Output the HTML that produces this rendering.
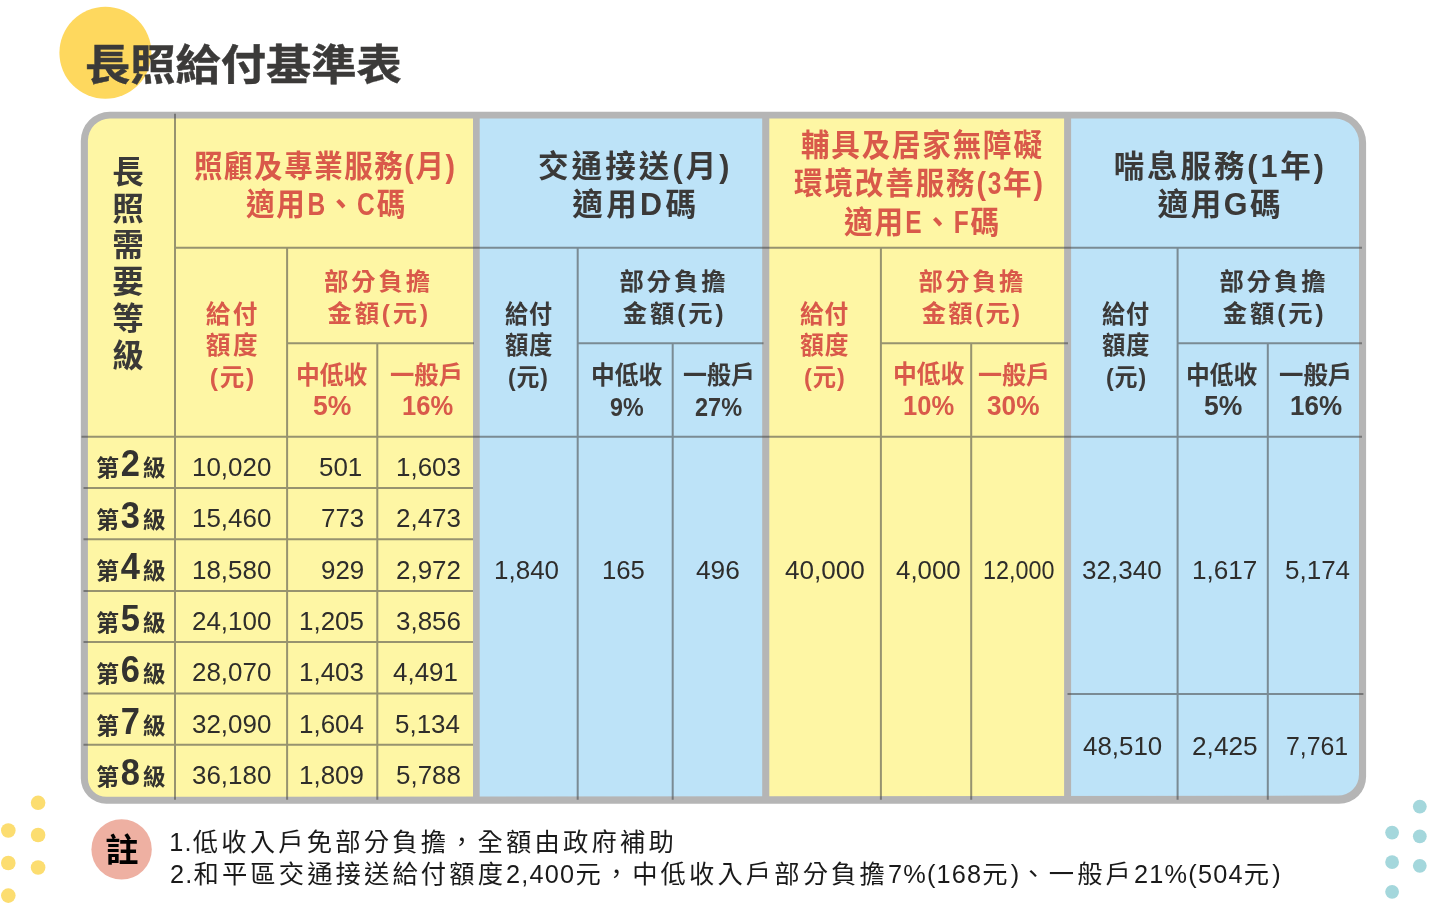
<!DOCTYPE html>
<html lang="zh-Hant">
<head>
<meta charset="utf-8">
<title>長照給付基準表</title>
<style>
html,body{margin:0;padding:0;background:#fff;}
body{width:1445px;height:904px;overflow:hidden;position:relative;font-family:"Liberation Sans","Noto Sans CJK TC",sans-serif;}
#page{position:absolute;left:0;top:0;width:1445px;height:904px;overflow:hidden;background:#fff;}
#grid{position:absolute;left:0;top:0;}
.t{position:absolute;white-space:nowrap;line-height:1;margin:0;padding:0;font-weight:700;transform-origin:0 50%;}
.d{display:inline-block;font-size:37.5px;line-height:1;transform:scaleX(.92);margin:0 1.9px 0 0.9px;}
.L{display:inline-block;transform:scaleX(.86);margin:0 -1.4px;}
.n{letter-spacing:1.2px;}
</style>
</head>
<body>
<div id="page">
<svg id="grid" width="1445" height="904" viewBox="0 0 1445 904">
<defs><clipPath id="inner"><path d="M109.9 118.6H1335.0A24.0 24.0 0 0 1 1359.0 142.6V774.6A21.0 21.0 0 0 1 1338.0 795.6L106.4 796.8A18.5 18.5 0 0 1 87.9 778.3V140.6A22.0 22.0 0 0 1 109.9 118.6Z"/></clipPath></defs>
<circle cx="105.4" cy="52.8" r="46" fill="#fed85e"/>
<path d="M109.8 111.8H1335.1A31.0 31.0 0 0 1 1366.1 142.8V776.8A27.0 27.0 0 0 1 1339.1 803.8H106.3A25.5 25.5 0 0 1 80.8 778.3V140.8A29.0 29.0 0 0 1 109.8 111.8Z" fill="#b5b5b5"/>
<g clip-path="url(#inner)">
<rect x="81" y="111" width="392" height="700" fill="#fef6a4"/>
<rect x="479.7" y="111" width="282.5" height="700" fill="#bde3f8"/>
<rect x="769.3" y="111" width="294.8" height="700" fill="#fef6a4"/>
<rect x="1071.1" y="111" width="300" height="700" fill="#bde3f8"/>
</g>
<g stroke="#464646" stroke-opacity="0.56" stroke-width="2" fill="none">
<path d="M175 113.8V799.8M287.1 247.7V799.8M377.3 343.2V799.8M577.7 247.7V799.8M672.7 343.2V799.8M880.9 247.7V799.8M971.2 343.2V799.8M1177.6 247.7V799.8M1267.8 343.2V799.8M175 247.7H1362M287.1 343.2H474M577.7 343.2H763.5M880.9 343.2H1068M1177.6 343.2H1362M81.5 436.8H1362M83.5 488H473M83.5 539.3H473M83.5 590.9H473M83.5 642H473M83.5 693.4H473M83.5 744.8H473M1067.5 694H1363.4"/>
</g>
<g fill="#fcdd70">
<circle cx="38.1" cy="802.8" r="7.3"/><circle cx="8.3" cy="830.5" r="7.3"/><circle cx="38.1" cy="835" r="7.3"/><circle cx="8.3" cy="863" r="7.3"/><circle cx="38.1" cy="867.5" r="7.3"/><circle cx="8.3" cy="895.6" r="7.3"/>
</g>
<g fill="#a4d7dc">
<circle cx="1419.8" cy="806.6" r="6.9"/><circle cx="1392.1" cy="832.6" r="6.9"/><circle cx="1419.8" cy="836.3" r="6.9"/><circle cx="1392.1" cy="862.1" r="6.9"/><circle cx="1419.8" cy="865.8" r="6.9"/><circle cx="1392.1" cy="891.8" r="6.9"/>
</g>
<circle cx="121.6" cy="849.4" r="30.2" fill="#eeb0a2"/>
</svg>
<h1 class="t" id="title" style="left:84.54px;top:45.48px;font-size:42.50px;transform:scaleX(1.0643);color:#3b3a39;-webkit-text-stroke:0.45px currentColor;">長照給付基準表</h1>
<div class="t" id="vh" style="left:108.60px;top:154.66px;font-size:31.50px;letter-spacing:5.304px;color:#3a3938;writing-mode:vertical-rl;">長照需要等級</div>
<div class="t" id="h1a" style="left:194.05px;top:150.50px;font-size:30.50px;letter-spacing:1.641px;transform:scaleX(0.9350);color:#d9594a;">照顧及專業服務(月)</div>
<div class="t" id="h1b" style="left:245.96px;top:188.60px;font-size:30.50px;letter-spacing:1.983px;transform:scaleX(0.9350);color:#d9594a;">適用<span class="L">B</span>、<span class="L">C</span>碼</div>
<div class="t" id="h2a" style="left:537.95px;top:151.04px;font-size:30.50px;letter-spacing:3.124px;color:#3a3938;">交通接送(月)</div>
<div class="t" id="h2b" style="left:572.16px;top:189.22px;font-size:30.50px;letter-spacing:3.470px;color:#3a3938;">適用D碼</div>
<div class="t" id="h3a" style="left:800.99px;top:129.89px;font-size:30.50px;letter-spacing:1.952px;transform:scaleX(0.9350);color:#d9594a;">輔具及居家無障礙</div>
<div class="t" id="h3b" style="left:793.58px;top:168.34px;font-size:30.50px;letter-spacing:2.028px;transform:scaleX(0.9350);color:#d9594a;">環境改善服務(<span class="L">3</span>年)</div>
<div class="t" id="h3c" style="left:844.36px;top:207.02px;font-size:30.50px;letter-spacing:2.056px;transform:scaleX(0.9350);color:#d9594a;">適用<span class="L">E</span>、<span class="L">F</span>碼</div>
<div class="t" id="h4a" style="left:1113.65px;top:150.51px;font-size:30.50px;letter-spacing:2.917px;color:#3a3938;">喘息服務(1年)</div>
<div class="t" id="h4b" style="left:1157.55px;top:188.90px;font-size:30.50px;letter-spacing:2.594px;color:#3a3938;">適用G碼</div>
<div class="t" id="s1gf" style="left:205.82px;top:302.73px;font-size:24.60px;letter-spacing:2.398px;color:#d9594a;">給付</div>
<div class="t" id="s1ed" style="left:205.77px;top:333.65px;font-size:24.60px;letter-spacing:2.522px;color:#d9594a;">額度</div>
<div class="t" id="s1yn" style="left:209.75px;top:365.67px;font-size:24.60px;letter-spacing:1.774px;color:#d9594a;">(元)</div>
<div class="t" id="s1bf" style="left:323.91px;top:269.64px;font-size:24.30px;letter-spacing:2.998px;color:#d9594a;">部分負擔</div>
<div class="t" id="s1je" style="left:327.52px;top:301.61px;font-size:24.30px;letter-spacing:2.867px;color:#d9594a;">金額(元)</div>
<div class="t" id="s1zd" style="left:296.18px;top:363.50px;font-size:24.50px;transform:scaleX(0.9719);color:#d9594a;">中低收</div>
<div class="t" id="s1p1" style="left:312.66px;top:391.55px;font-size:28.00px;transform:scaleX(0.9473);color:#d9594a;">5%</div>
<div class="t" id="s1yb" style="left:390.28px;top:363.81px;font-size:24.50px;transform:scaleX(0.9937);color:#d9594a;">一般戶</div>
<div class="t" id="s1p2" style="left:402.34px;top:391.55px;font-size:28.00px;transform:scaleX(0.9118);color:#d9594a;">16%</div>
<div class="t" id="s2gf" style="left:504.93px;top:302.92px;font-size:24.60px;letter-spacing:1.000px;transform:scaleX(0.9372);color:#3a3938;">給付</div>
<div class="t" id="s2ed" style="left:504.79px;top:333.89px;font-size:24.60px;letter-spacing:1.000px;transform:scaleX(0.9433);color:#3a3938;">額度</div>
<div class="t" id="s2yn" style="left:508.44px;top:365.75px;font-size:24.60px;letter-spacing:1.000px;transform:scaleX(0.9293);color:#3a3938;">(元)</div>
<div class="t" id="s2bf" style="left:619.50px;top:270.10px;font-size:24.30px;letter-spacing:2.939px;color:#3a3938;">部分負擔</div>
<div class="t" id="s2je" style="left:622.82px;top:302.08px;font-size:24.30px;letter-spacing:2.927px;color:#3a3938;">金額(元)</div>
<div class="t" id="s2zd" style="left:590.72px;top:363.50px;font-size:24.50px;transform:scaleX(0.9697);color:#3a3938;">中低收</div>
<div class="t" id="s2p1" style="left:610.05px;top:395.32px;font-size:25.70px;transform:scaleX(0.9056);color:#3a3938;">9%</div>
<div class="t" id="s2yb" style="left:682.70px;top:363.99px;font-size:24.50px;transform:scaleX(0.9790);color:#3a3938;">一般戶</div>
<div class="t" id="s2p2" style="left:695.01px;top:395.32px;font-size:25.70px;transform:scaleX(0.9153);color:#3a3938;">27%</div>
<div class="t" id="s3gf" style="left:800.15px;top:302.58px;font-size:24.60px;letter-spacing:1.000px;transform:scaleX(0.9620);color:#d9594a;">給付</div>
<div class="t" id="s3ed" style="left:800.17px;top:333.81px;font-size:24.60px;letter-spacing:1.000px;transform:scaleX(0.9665);color:#d9594a;">額度</div>
<div class="t" id="s3yn" style="left:804.24px;top:365.64px;font-size:24.60px;letter-spacing:1.000px;transform:scaleX(0.9487);color:#d9594a;">(元)</div>
<div class="t" id="s3bf" style="left:918.39px;top:269.79px;font-size:24.30px;letter-spacing:2.589px;color:#d9594a;">部分負擔</div>
<div class="t" id="s3je" style="left:921.72px;top:301.68px;font-size:24.30px;letter-spacing:2.343px;color:#d9594a;">金額(元)</div>
<div class="t" id="s3zd" style="left:893.35px;top:363.00px;font-size:24.50px;transform:scaleX(0.9717);color:#d9594a;">中低收</div>
<div class="t" id="s3p1" style="left:903.39px;top:391.55px;font-size:28.00px;transform:scaleX(0.9135);color:#d9594a;">10%</div>
<div class="t" id="s3yb" style="left:978.24px;top:363.98px;font-size:24.50px;transform:scaleX(0.9818);color:#d9594a;">一般戶</div>
<div class="t" id="s3p2" style="left:986.79px;top:391.81px;font-size:28.00px;transform:scaleX(0.9361);color:#d9594a;">30%</div>
<div class="t" id="s4gf" style="left:1102.13px;top:302.62px;font-size:24.60px;letter-spacing:1.000px;transform:scaleX(0.9373);color:#3a3938;">給付</div>
<div class="t" id="s4ed" style="left:1102.17px;top:333.91px;font-size:24.60px;letter-spacing:1.000px;transform:scaleX(0.9445);color:#3a3938;">額度</div>
<div class="t" id="s4yn" style="left:1106.37px;top:365.85px;font-size:24.60px;letter-spacing:1.000px;transform:scaleX(0.9357);color:#3a3938;">(元)</div>
<div class="t" id="s4bf" style="left:1219.52px;top:269.96px;font-size:24.30px;letter-spacing:2.958px;color:#3a3938;">部分負擔</div>
<div class="t" id="s4je" style="left:1222.82px;top:302.08px;font-size:24.30px;letter-spacing:2.927px;color:#3a3938;">金額(元)</div>
<div class="t" id="s4zd" style="left:1186.18px;top:363.50px;font-size:24.50px;transform:scaleX(0.9719);color:#3a3938;">中低收</div>
<div class="t" id="s4p1" style="left:1204.04px;top:391.55px;font-size:28.00px;transform:scaleX(0.9473);color:#3a3938;">5%</div>
<div class="t" id="s4yb" style="left:1278.89px;top:363.84px;font-size:24.50px;transform:scaleX(0.9967);color:#3a3938;">一般戶</div>
<div class="t" id="s4p2" style="left:1289.69px;top:391.81px;font-size:28.00px;transform:scaleX(0.9294);color:#3a3938;">16%</div>
<div class="t" id="rl0" style="left:96.27px;top:444.93px;font-size:22.80px;color:#33322f;">第<span class="d">2</span>級</div>
<div class="t" id="rl1" style="left:96.27px;top:496.51px;font-size:22.80px;color:#33322f;">第<span class="d">3</span>級</div>
<div class="t" id="rl2" style="left:96.34px;top:547.94px;font-size:22.80px;color:#33322f;">第<span class="d">4</span>級</div>
<div class="t" id="rl3" style="left:96.27px;top:599.84px;font-size:22.80px;color:#33322f;">第<span class="d">5</span>級</div>
<div class="t" id="rl4" style="left:96.27px;top:650.98px;font-size:22.80px;color:#33322f;">第<span class="d">6</span>級</div>
<div class="t" id="rl5" style="left:96.27px;top:702.84px;font-size:22.80px;color:#33322f;">第<span class="d">7</span>級</div>
<div class="t" id="rl6" style="left:96.27px;top:753.98px;font-size:22.80px;color:#33322f;">第<span class="d">8</span>級</div>
<div class="t" id="d0a" style="left:191.74px;top:454.48px;font-size:26.70px;font-weight:400;transform:scaleX(0.9720);color:#2e2d2b;">10,020</div>
<div class="t" id="d0b" style="left:319.48px;top:454.38px;font-size:26.70px;font-weight:400;transform:scaleX(0.9720);color:#2e2d2b;">501</div>
<div class="t" id="d0c" style="left:395.94px;top:454.38px;font-size:26.70px;font-weight:400;transform:scaleX(0.9720);color:#2e2d2b;">1,603</div>
<div class="t" id="d1a" style="left:191.74px;top:505.16px;font-size:26.70px;font-weight:400;transform:scaleX(0.9720);color:#2e2d2b;">15,460</div>
<div class="t" id="d1b" style="left:321.10px;top:504.96px;font-size:26.70px;font-weight:400;transform:scaleX(0.9720);color:#2e2d2b;">773</div>
<div class="t" id="d1c" style="left:395.94px;top:504.96px;font-size:26.70px;font-weight:400;transform:scaleX(0.9720);color:#2e2d2b;">2,473</div>
<div class="t" id="d2a" style="left:191.87px;top:556.88px;font-size:26.70px;font-weight:400;transform:scaleX(0.9720);color:#2e2d2b;">18,580</div>
<div class="t" id="d2b" style="left:320.91px;top:556.70px;font-size:26.70px;font-weight:400;transform:scaleX(0.9720);color:#2e2d2b;">929</div>
<div class="t" id="d2c" style="left:395.99px;top:556.68px;font-size:26.70px;font-weight:400;transform:scaleX(0.9720);color:#2e2d2b;">2,972</div>
<div class="t" id="d3a" style="left:191.74px;top:608.16px;font-size:26.70px;font-weight:400;transform:scaleX(0.9720);color:#2e2d2b;">24,100</div>
<div class="t" id="d3b" style="left:298.55px;top:607.96px;font-size:26.70px;font-weight:400;transform:scaleX(0.9720);color:#2e2d2b;">1,205</div>
<div class="t" id="d3c" style="left:395.71px;top:607.96px;font-size:26.70px;font-weight:400;transform:scaleX(0.9720);color:#2e2d2b;">3,856</div>
<div class="t" id="d4a" style="left:191.87px;top:658.94px;font-size:26.70px;font-weight:400;transform:scaleX(0.9720);color:#2e2d2b;">28,070</div>
<div class="t" id="d4b" style="left:299.32px;top:659.34px;font-size:26.70px;font-weight:400;transform:scaleX(0.9720);color:#2e2d2b;">1,403</div>
<div class="t" id="d4c" style="left:393.48px;top:659.34px;font-size:26.70px;font-weight:400;transform:scaleX(0.9720);color:#2e2d2b;">4,491</div>
<div class="t" id="d5a" style="left:191.87px;top:710.86px;font-size:26.70px;font-weight:400;transform:scaleX(0.9720);color:#2e2d2b;">32,090</div>
<div class="t" id="d5b" style="left:298.92px;top:710.76px;font-size:26.70px;font-weight:400;transform:scaleX(0.9720);color:#2e2d2b;">1,604</div>
<div class="t" id="d5c" style="left:395.04px;top:710.76px;font-size:26.70px;font-weight:400;transform:scaleX(0.9720);color:#2e2d2b;">5,134</div>
<div class="t" id="d6a" style="left:191.74px;top:762.48px;font-size:26.70px;font-weight:400;transform:scaleX(0.9720);color:#2e2d2b;">36,180</div>
<div class="t" id="d6b" style="left:298.56px;top:762.38px;font-size:26.70px;font-weight:400;transform:scaleX(0.9720);color:#2e2d2b;">1,809</div>
<div class="t" id="d6c" style="left:396.05px;top:762.48px;font-size:26.70px;font-weight:400;transform:scaleX(0.9720);color:#2e2d2b;">5,788</div>
<div class="t" id="m1" style="left:493.82px;top:556.68px;font-size:26.70px;font-weight:400;transform:scaleX(0.9739);color:#2e2d2b;">1,840</div>
<div class="t" id="m2" style="left:602.21px;top:556.88px;font-size:26.70px;font-weight:400;transform:scaleX(0.9634);color:#2e2d2b;">165</div>
<div class="t" id="m3" style="left:695.87px;top:556.68px;font-size:26.70px;font-weight:400;transform:scaleX(0.9836);color:#2e2d2b;">496</div>
<div class="t" id="m4" style="left:785.23px;top:556.68px;font-size:26.70px;font-weight:400;transform:scaleX(0.9784);color:#2e2d2b;">40,000</div>
<div class="t" id="m5" style="left:895.75px;top:556.60px;font-size:26.70px;font-weight:400;transform:scaleX(0.9694);color:#2e2d2b;">4,000</div>
<div class="t" id="m6" style="left:983.31px;top:556.68px;font-size:26.70px;font-weight:400;transform:scaleX(0.8747);color:#2e2d2b;">12,000</div>
<div class="t" id="m7" style="left:1082.00px;top:556.88px;font-size:26.70px;font-weight:400;transform:scaleX(0.9762);color:#2e2d2b;">32,340</div>
<div class="t" id="m8" style="left:1192.08px;top:557.04px;font-size:26.70px;font-weight:400;transform:scaleX(0.9793);color:#2e2d2b;">1,617</div>
<div class="t" id="m9" style="left:1284.87px;top:556.80px;font-size:26.70px;font-weight:400;transform:scaleX(0.9745);color:#2e2d2b;">5,174</div>
<div class="t" id="b7" style="left:1082.86px;top:733.00px;font-size:26.70px;font-weight:400;transform:scaleX(0.9710);color:#2e2d2b;">48,510</div>
<div class="t" id="b8" style="left:1192.01px;top:733.00px;font-size:26.70px;font-weight:400;transform:scaleX(0.9831);color:#2e2d2b;">2,425</div>
<div class="t" id="b9" style="left:1285.63px;top:733.00px;font-size:26.70px;font-weight:400;transform:scaleX(0.9307);color:#2e2d2b;">7,761</div>
<div class="t" id="nc" style="left:105.59px;top:834.01px;font-size:33.00px;color:#000;">註</div>
<div class="t" id="n1" style="left:169.33px;top:830.13px;font-size:25.30px;font-weight:400;letter-spacing:3.178px;color:#1a1a1a;"><span class="n">1.</span>低收入戶免部分負擔，全額由政府補助</div>
<div class="t" id="n2" style="left:170.06px;top:862.32px;font-size:25.30px;font-weight:400;letter-spacing:3.114px;color:#1a1a1a;"><span class="n">2.</span>和平區交通接送給付額度<span class="n">2,400</span>元，中低收入戶部分負擔<span class="n">7%(168</span>元<span class="n">)</span>、一般戶<span class="n">21%(504</span>元<span class="n">)</span></div>
</div>
</body>
</html>
